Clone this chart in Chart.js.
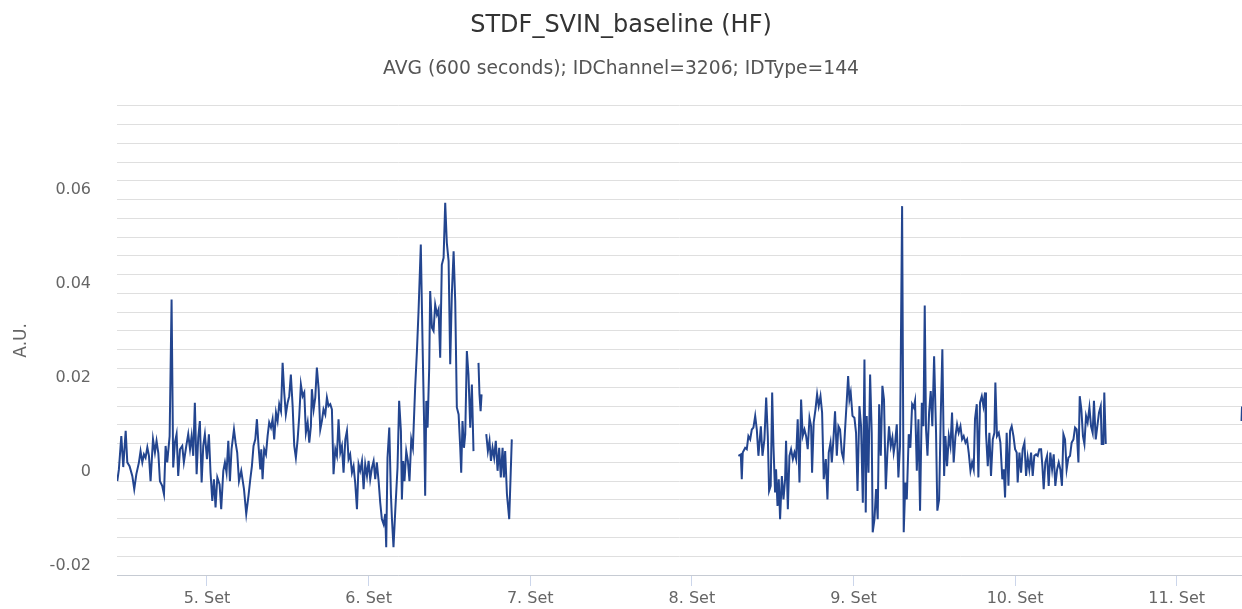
<!DOCTYPE html>
<html>
<head>
<meta charset="utf-8">
<script src="https://cdn.jsdelivr.net/npm/chart.js@4.4.1/dist/chart.umd.min.js"></script>
<style>
html,body{margin:0;padding:0;background:#ffffff;}
#wrap{width:1242px;height:609px;position:relative;}
</style>
</head>
<body>
<div id="wrap"><canvas id="c" width="1242" height="609"></canvas></div>
<script>
// ---- Data (day of September, value in A.U.) ----
const chartTitle = 'STDF_SVIN_baseline (HF)';
const chartSubtitle = 'AVG (600 seconds); IDChannel=3206; IDType=144';
const yAxisTitle = 'A.U.';

const xTickValues = [5, 6, 7, 8, 9, 10, 11];
const xTickLabels = ['5. Set', '6. Set', '7. Set', '8. Set', '9. Set', '10. Set', '11. Set'];
const yLabelValues = [-0.02, 0, 0.02, 0.04, 0.06];
const yTickLabels = ['-0.02', '0', '0.02', '0.04', '0.06'];
const yGridValues = [-0.022, -0.018, -0.014, -0.010, -0.006, -0.002, 0.002, 0.006, 0.010, 0.014,
  0.018, 0.022, 0.026, 0.030, 0.034, 0.038, 0.042, 0.046, 0.050, 0.054, 0.058, 0.062, 0.066,
  0.070, 0.074, 0.078];

const seg1Points = [
[4.445,-0.002],[4.455,0.0005],[4.470,0.0076],[4.482,0.001],[4.497,0.0087],[4.507,0.002],[4.521,0.0012],
[4.538,-0.0009],[4.550,-0.0037],[4.563,-0.0005],[4.579,0.002],[4.589,0.0044],[4.600,0.002],[4.610,0.0037],
[4.620,0.003],[4.631,0.0052],[4.641,0.0034],[4.651,-0.002],[4.666,0.0069],[4.678,0.0041],[4.688,0.0066],
[4.699,0.004],[4.709,-0.002],[4.723,-0.003],[4.734,-0.0048],[4.744,0.0055],[4.754,0.002],[4.769,0.0076],
[4.781,0.0367],[4.791,0.0009],[4.802,0.0063],[4.812,0.008],[4.822,-0.0009],[4.833,0.0048],[4.847,0.0055],
[4.857,0.002],[4.872,0.0055],[4.884,0.008],[4.895,0.0048],[4.905,0.0076],[4.915,0.0034],[4.925,0.0147],
[4.936,-0.0005],[4.946,0.0073],[4.956,0.0108],[4.967,-0.0023],[4.977,0.0055],[4.987,0.008],[5.000,0.0027],
[5.012,0.008],[5.022,-0.0002],[5.033,-0.0062],[5.043,-0.0016],[5.053,-0.0076],[5.064,-0.0012],[5.078,-0.0027],
[5.088,-0.008],[5.101,0.0002],[5.111,0.002],[5.121,-0.0002],[5.132,0.0066],[5.142,-0.002],[5.152,0.0048],
[5.167,0.009],[5.177,0.0062],[5.187,0.0041],[5.198,-0.002],[5.212,0.0002],[5.229,-0.0037],[5.243,-0.009],
[5.257,-0.0051],[5.268,-0.0016],[5.278,0.0012],[5.288,0.0055],[5.299,0.0069],[5.309,0.0112],[5.319,0.0055],
[5.330,0.0005],[5.336,0.0048],[5.344,-0.0016],[5.354,0.0048],[5.365,0.0037],[5.375,0.0076],[5.385,0.0105],
[5.396,0.0094],[5.406,0.0112],[5.416,0.0069],[5.427,0.0126],[5.437,0.0108],[5.447,0.0144],[5.458,0.0129],
[5.468,0.0232],[5.478,0.0169],[5.488,0.0122],[5.499,0.0147],[5.509,0.0161],[5.519,0.0207],[5.530,0.014],
[5.540,0.0055],[5.550,0.003],[5.561,0.0069],[5.571,0.0119],[5.581,0.0186],[5.592,0.0161],[5.602,0.0169],
[5.612,0.0083],[5.623,0.0105],[5.633,0.0062],[5.643,0.0097],[5.649,0.0176],[5.660,0.0133],[5.670,0.0158],
[5.680,0.0222],[5.691,0.0176],[5.701,0.009],[5.711,0.0108],[5.721,0.0133],[5.732,0.0122],[5.742,0.0158],
[5.752,0.014],[5.763,0.0144],[5.773,0.0133],[5.783,-0.0005],[5.794,0.0048],[5.804,0.0034],[5.814,0.0112],
[5.825,0.0041],[5.835,0.0055],[5.845,-0.0002],[5.856,0.0069],[5.866,0.0087],[5.876,0.0027],[5.886,0.0037],
[5.897,-0.0002],[5.907,0.0012],[5.917,-0.0023],[5.928,-0.008],[5.938,0.0016],[5.948,0.0002],[5.959,0.0023],
[5.969,-0.0037],[5.979,0.0016],[5.990,-0.0009],[6.000,0.0023],[6.010,-0.0016],[6.021,0.0009],[6.031,0.0023],
[6.041,-0.0016],[6.051,0.002],[6.062,-0.002],[6.072,-0.0066],[6.082,-0.0101],
[6.093,-0.0112],[6.103,-0.009],[6.109,-0.0161],[6.117,0.003],[6.128,0.0094],[6.138,-0.0048],[6.144,-0.0097],
[6.154,-0.0161],[6.165,-0.0083],[6.179,0.0009],[6.189,0.0151],[6.200,0.0087],[6.206,-0.0059],[6.214,0.0023],
[6.222,-0.002],[6.233,0.0044],[6.243,0.0023],[6.253,-0.002],[6.264,0.0069],[6.274,0.0051],[6.288,0.0179],
[6.299,0.0257],[6.309,0.0342],[6.323,0.0484],[6.334,0.0271],[6.344,0.0094],[6.350,-0.0051],[6.357,0.0151],
[6.365,0.0094],[6.375,0.0222],[6.381,0.0385],[6.392,0.0307],[6.402,0.03],[6.412,0.0356],[6.423,0.0335],
[6.433,0.0346],[6.443,0.0243],[6.453,0.0441],[6.464,0.0456],[6.474,0.0573],[6.484,0.0488],[6.495,0.0449],
[6.505,0.0229],[6.515,0.0378],[6.526,0.047],[6.536,0.0363],[6.546,0.0137],[6.557,0.0122],[6.567,0.0051],
[6.573,-0.0002],[6.581,0.0108],[6.590,0.0051],[6.598,0.008],[6.608,0.0257],[6.618,0.0207],[6.629,0.0094],
[6.639,0.0186],[6.649,0.0044],[6.664,null],[6.680,0.0232],[6.686,0.0165],[6.693,0.0129],[6.699,0.0165],
[6.713,null],[6.728,0.008],[6.738,0.0044],[6.748,0.0066],[6.757,0.0023],[6.767,0.0051],[6.777,0.003],
[6.787,0.0066],[6.798,0.0002],[6.808,0.0051],[6.818,-0.0012],[6.829,0.0051],[6.837,-0.0012],[6.845,0.0044],
[6.856,-0.0048],[6.870,-0.0101],[6.886,0.0069]
];

const seg2Points = [
[8.288,0.0034],[8.303,0.0037],[8.309,-0.0016],[8.315,0.0041],[8.330,0.0051],[8.340,0.0048],[8.350,0.0076],
[8.361,0.0069],[8.371,0.009],[8.381,0.0094],[8.392,0.0119],[8.402,0.009],[8.412,0.0034],[8.427,0.0097],
[8.437,0.0034],[8.449,0.0069],[8.460,0.0158],[8.470,0.0076],[8.478,-0.0041],[8.488,-0.003],[8.497,0.0169],
[8.505,0.0055],[8.515,-0.0044],[8.521,0.0005],[8.530,-0.0073],[8.538,-0.0016],[8.546,-0.0101],[8.557,-0.0009],
[8.567,-0.0059],[8.577,-0.0016],[8.583,0.0066],[8.594,-0.008],[8.604,0.0034],[8.614,0.0048],[8.625,0.0027],
[8.635,0.0041],[8.645,0.0027],[8.655,0.0112],[8.666,-0.0023],[8.676,0.0154],[8.686,0.0076],[8.697,0.009],
[8.707,0.0076],[8.717,0.0048],[8.728,0.0115],[8.738,0.0097],[8.744,-0.0002],[8.754,0.0105],[8.765,0.0133],
[8.775,0.0165],[8.785,0.014],[8.796,0.0161],[8.806,0.0126],[8.816,-0.0016],[8.829,0.0027],[8.839,-0.0059],
[8.847,0.0041],[8.858,0.0062],[8.866,0.002],[8.876,0.0069],[8.886,0.0129],[8.897,0.0034],[8.907,0.0097],
[8.917,0.009],[8.928,0.0041],[8.938,0.0027],[8.948,0.009],[8.959,0.0154],[8.967,0.0204],[8.975,0.0154],
[8.983,0.0169],[8.994,0.0119],[9.006,0.0115],[9.016,0.0083],[9.025,-0.0041],[9.037,0.014],[9.047,0.0097],
[9.058,-0.0066],[9.068,0.0239],
[9.076,-0.0087],[9.082,0.0119],[9.093,-0.0002],[9.103,0.0207],[9.113,0.0083],[9.119,-0.0129],[9.130,-0.0101],
[9.140,-0.0037],[9.150,-0.0101],[9.159,0.0144],[9.169,0.0034],[9.179,0.0183],[9.189,0.0154],[9.200,-0.0037],
[9.210,0.0041],[9.220,0.0097],[9.231,0.0055],[9.241,0.0073],[9.249,0.0041],[9.258,0.0062],[9.268,0.0101],
[9.278,-0.0012],[9.288,0.0055],[9.301,0.0566],[9.311,-0.0129],[9.321,-0.0023],[9.330,-0.0059],[9.342,0.008],
[9.352,0.0051],[9.363,0.0144],[9.373,0.0137],[9.381,0.0151],[9.392,0.0002],[9.402,0.0112],[9.412,-0.0083],
[9.423,0.0147],[9.433,0.0097],[9.441,0.0354],[9.449,0.009],[9.458,0.0034],[9.468,0.0126],[9.478,0.0172],
[9.488,0.0097],[9.499,0.0246],[9.511,0.0083],[9.519,-0.0083],[9.530,-0.0059],[9.540,0.0119],[9.550,0.0261],
[9.561,-0.0009],[9.569,0.0076],[9.579,0.0012],[9.590,0.0076],[9.600,0.0055],[9.610,0.0126],[9.620,0.002],
[9.631,0.0076],[9.641,0.0101],[9.651,0.0083],[9.662,0.0097],[9.672,0.0069],[9.682,0.0076],[9.693,0.0062],
[9.703,0.0069],[9.713,0.0041],[9.724,0.0002],[9.734,0.002],[9.744,0.0005],[9.752,0.0112],[9.763,0.0144],
[9.773,-0.0012],[9.783,0.0147],[9.794,0.0161],[9.804,0.014],[9.814,0.0169],
[9.820,0.0083],[9.831,0.0012],[9.841,0.0083],[9.851,-0.0009],[9.862,0.0069],[9.872,0.0083],[9.878,0.019],
[9.888,0.0076],[9.899,0.0083],[9.909,0.0062],[9.921,-0.0016],[9.930,0.0005],[9.938,-0.0055],[9.948,0.0083],
[9.959,-0.003],[9.969,0.0087],[9.979,0.0097],[9.990,0.0076],[10.000,0.0048],[10.010,0.0041],[10.016,-0.0023],
[10.027,0.0041],[10.037,-0.0002],[10.047,0.0048],[10.058,0.0062],[10.068,-0.0009],[10.078,0.003],[10.088,0.0005],
[10.099,0.0041],[10.109,-0.0009],[10.119,0.0034],[10.130,0.0037],[10.140,0.0034],[10.150,0.0048],[10.161,0.0048],
[10.169,0.0012],[10.177,-0.0037],[10.187,0.002],[10.198,0.0034],[10.208,-0.003],[10.218,0.0041],[10.229,0.0005],
[10.239,0.0037],[10.249,-0.003],[10.260,0.0005],[10.270,0.002],[10.280,0.0005],[10.290,-0.003],[10.299,0.008],
[10.309,0.0069],[10.319,0.0005],[10.330,0.003],[10.340,0.0034],[10.350,0.0062],[10.361,0.0069],[10.371,0.0094],
[10.381,0.009],[10.392,0.002],[10.400,0.0161],[10.410,0.0133],[10.420,0.0076],[10.429,0.0059],[10.439,0.0119],
[10.449,0.0105],[10.460,0.0137],[10.470,0.0097],[10.480,0.0083],[10.488,0.0151],[10.499,0.0069],[10.509,0.0097],
[10.519,0.0126],[10.530,0.014],[10.536,0.0059],[10.546,0.0059],[10.552,0.0169],[10.561,0.0059]
];

const seg3Points = [[11.401,0.0108],[11.404,0.0139]];

// ---- Build chart ----
const FONT = "'DejaVu Sans', 'Liberation Sans', sans-serif";
function toXY(arr){ return arr.map(p => ({x: p[0], y: p[1]})); }
const lineData = [].concat(
  toXY(seg1Points), [{x: 7.6, y: null}],
  toXY(seg2Points), [{x: 11.0, y: null}],
  toXY(seg3Points)
);

function zeroPad(s){ s.paddingTop = 0; s.paddingBottom = 0; s.paddingLeft = 0; s.paddingRight = 0; }

new Chart(document.getElementById('c'), {
  type: 'line',
  data: {
    datasets: [{
      data: lineData,
      borderColor: '#23458f',
      borderWidth: 2,
      pointRadius: 0,
      pointHoverRadius: 0,
      tension: 0,
      spanGaps: false,
      fill: false,
      xAxisID: 'x',
      yAxisID: 'y'
    }]
  },
  options: {
    responsive: false,
    animation: false,
    devicePixelRatio: 1,
    layout: { padding: 0 },
    plugins: {
      legend: { display: false },
      tooltip: { enabled: false },
      title: {
        display: true, text: chartTitle, color: '#333333',
        font: { family: FONT, size: 24, weight: 'normal', lineHeight: 1.2 },
        padding: { top: 11.3, bottom: 0 }
      },
      subtitle: {
        display: true, text: chartSubtitle, color: '#555555',
        font: { family: FONT, size: 18.7, weight: 'normal', lineHeight: 1.2 },
        padding: { top: 18.2, bottom: 24.96 }
      }
    },
    scales: {
      x: {
        type: 'linear', position: 'bottom',
        min: 4.4433, max: 11.404,
        afterBuildTicks: s => { s.ticks = xTickValues.map(v => ({ value: v })); },
        ticks: {
          color: '#666666', font: { family: FONT, size: 16 }, padding: 3,
          maxRotation: 0, autoSkip: false,
          callback: (v, i) => xTickLabels[i]
        },
        grid: { display: true, drawOnChartArea: false, drawTicks: true, tickLength: 11, color: '#ccd6eb' },
        border: { display: true, color: '#c6cbd3' },
        afterFit: s => { s.height = 34; zeroPad(s); }
      },
      y: {
        type: 'linear', position: 'left',
        min: -0.022, max: 0.078,
        afterBuildTicks: s => { s.ticks = yLabelValues.map(v => ({ value: v })); },
        ticks: {
          color: '#666666', font: { family: FONT, size: 16 }, padding: 26,
          autoSkip: false,
          callback: (v, i) => yTickLabels[i]
        },
        grid: { display: false, drawTicks: false },
        border: { display: false },
        title: {
          display: true, text: yAxisTitle, color: '#666666',
          font: { family: FONT, size: 17, weight: 'normal', lineHeight: 1.2 },
          padding: { top: 11, bottom: 0 }
        },
        afterFit: s => { s.width = 117; zeroPad(s); }
      },
      yGrid: {
        type: 'linear', axis: 'y', position: 'left',
        min: -0.022, max: 0.078,
        afterBuildTicks: s => { s.ticks = yGridValues.map(v => ({ value: v })); },
        ticks: { display: false },
        grid: { display: true, drawOnChartArea: true, drawTicks: false, color: '#dfdfdf', lineWidth: 1 },
        border: { display: false },
        afterFit: s => { s.width = 0; zeroPad(s); }
      }
    }
  }
});
</script>
</body>
</html>
